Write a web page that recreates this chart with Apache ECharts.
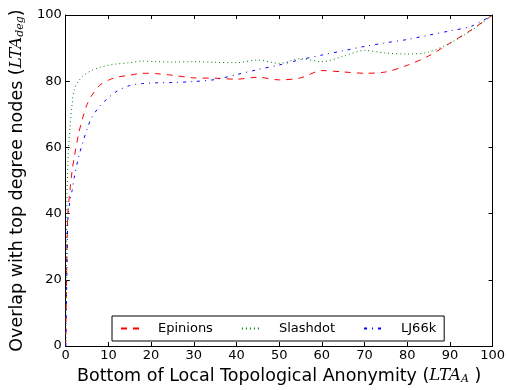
<!DOCTYPE html>
<html>
<head>
<meta charset="utf-8">
<script src="https://cdn.jsdelivr.net/npm/echarts@6/dist/echarts.min.js"></script>
<style>
  html, body { margin: 0; padding: 0; background: #fff; }
  #chart { width: 508px; height: 390px; }
</style>
</head>
<body>
<div id="chart"></div>
<script>
// Bottom of local topological anonymity (x) shared by all series
const lta = [0, 0.25, 0.5, 1, 1.5, 2, 3, 4, 5, 6, 8, 10, 12, 15, 18, 21, 25, 30, 35, 40, 45, 50, 55, 60, 65, 70, 75, 80, 85, 90, 95, 100];

// Overlap with top degree nodes for each dataset
const epinions = [0, 25, 40, 47, 53, 57, 64, 69, 73, 75.5, 78.8, 80.3, 81.2, 81.8, 82.4, 82.3, 81.8, 81.0, 80.9, 80.6, 81.2, 80.4, 81.0, 83.2, 82.8, 82.4, 82.8, 84.8, 87.6, 91.5, 95.5, 100];
const slashdot = [0, 40, 55, 66, 73, 77.5, 80, 81.5, 82.5, 83.2, 84.2, 84.8, 85.2, 85.6, 86.1, 85.9, 85.8, 85.9, 85.7, 85.6, 86.4, 85.4, 86.8, 85.9, 87.5, 89.3, 88.5, 88.2, 88.8, 91.5, 95.3, 100];
const lj66k = [0, 20, 38, 44, 47, 51, 57, 61.5, 65.5, 68.8, 72.5, 75, 77, 78.7, 79.3, 79.5, 79.6, 79.9, 80.5, 82, 83.5, 84.9, 86.5, 87.9, 89.2, 90.5, 91.6, 92.6, 93.9, 95.2, 96.6, 100];

const seriesNames = ['Epinions', 'Slashdot', 'LJ66k'];

const font = 'DejaVu Sans';
const pair = ys => lta.map((x, i) => [x, ys[i]]);

const chart = echarts.init(document.getElementById('chart'), null, { renderer: 'canvas' });

const axisCommon = {
  min: 0, max: 100,
  axisLine: { show: true, onZero: false, lineStyle: { color: '#000', width: 1 } },
  axisTick: { show: true, inside: true, length: 4, lineStyle: { color: '#000' } },
  splitLine: { show: false }
};

// Axis titles mix sans text with italic math symbols and subscripts
const mathRich = {
  n: { fontFamily: font, fontSize: 17.5, color: '#000' },
  m: { fontFamily: 'DejaVu Serif', fontStyle: 'italic', fontSize: 16.5, color: '#000' },
  s: { fontFamily: 'DejaVu Serif', fontStyle: 'italic', fontSize: 11, color: '#000', verticalAlign: 'bottom', padding: [7, 0, 0, 0] }
};

chart.setOption({
  animation: false,
  backgroundColor: '#fff',
  grid: { left: 65, right: 15, top: 15, bottom: 44, containLabel: false },
  legend: {
    data: seriesNames,
    left: 112, top: 316,
    itemWidth: 20, itemHeight: 10, itemGap: 28,
    padding: [6, 8, 6, 8],
    borderColor: '#000', borderWidth: 1, backgroundColor: '#fff',
    itemStyle: { color: 'transparent', borderColor: 'transparent', borderWidth: 0 },
    textStyle: { fontFamily: font, fontSize: 13, color: '#000', padding: [0, 0, 0, 12] }
  },
  xAxis: [
    Object.assign({}, axisCommon, {
      type: 'value', position: 'bottom', interval: 10,
      axisLabel: { fontFamily: font, fontSize: 13, color: '#000', margin: 3 },
      name: '{n|Bottom of Local Topological Anonymity (}{m|LTA}{s|A}{n| )}',
      nameLocation: 'middle', nameGap: 21,
      nameTextStyle: { rich: mathRich }
    }),
    Object.assign({}, axisCommon, {
      type: 'value', position: 'top', interval: 10,
      axisLabel: { show: false }
    })
  ],
  yAxis: [
    Object.assign({}, axisCommon, {
      type: 'value', position: 'left', interval: 20,
      axisLabel: { fontFamily: font, fontSize: 13, color: '#000', margin: 4 },
      name: '{n|Overlap with top degree nodes (}{m|LTA}{s|deg}{n|)}',
      nameLocation: 'middle', nameGap: 36, nameRotate: 90,
      nameTextStyle: { rich: mathRich }
    }),
    Object.assign({}, axisCommon, {
      type: 'value', position: 'right', interval: 20,
      axisLabel: { show: false }
    })
  ],
  series: [
    {
      name: seriesNames[0], type: 'line', data: pair(epinions), smooth: 0.3,
      showSymbol: false, symbol: 'none',
      lineStyle: { color: '#ff0000', width: 1, type: [6, 6] },
      itemStyle: { color: '#ff0000' }
    },
    {
      name: seriesNames[1], type: 'line', data: pair(slashdot), smooth: 0.3,
      showSymbol: false, symbol: 'none',
      lineStyle: { color: '#008000', width: 1, type: [1, 3] },
      itemStyle: { color: '#008000' }
    },
    {
      name: seriesNames[2], type: 'line', data: pair(lj66k), smooth: 0.3,
      showSymbol: false, symbol: 'none',
      lineStyle: { color: '#0000ff', width: 1, type: [3, 5, 1, 5] },
      itemStyle: { color: '#0000ff' }
    }
  ]
});
</script>
</body>
</html>
